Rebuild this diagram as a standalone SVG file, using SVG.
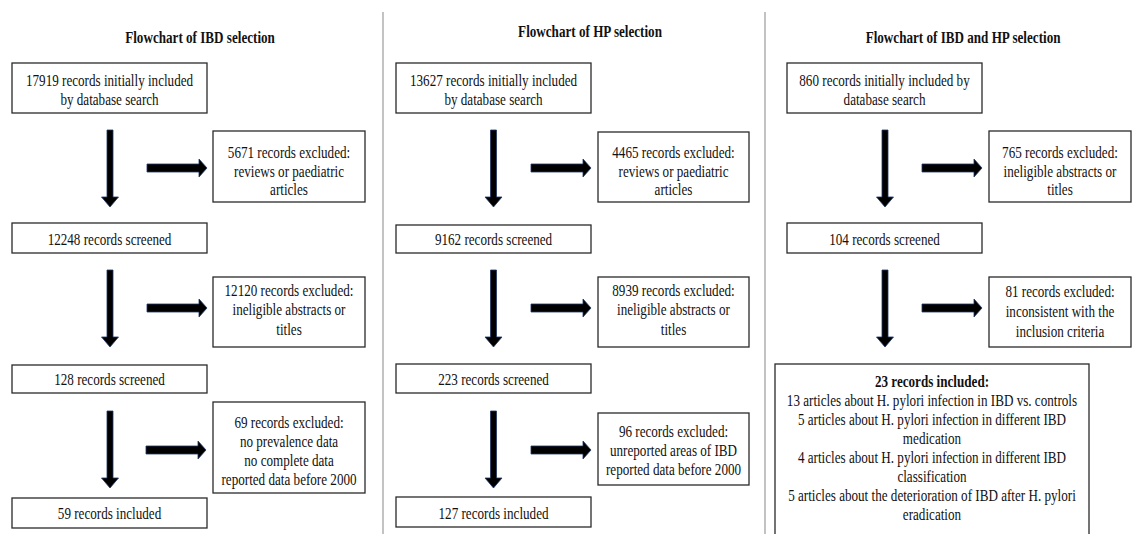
<svg xmlns="http://www.w3.org/2000/svg" width="1132" height="534" viewBox="0 0 1132 534">
<style>
.bx{fill:#fff;stroke:#2a2a2a;stroke-width:1.3}
.t{font-family:"Liberation Serif","Times New Roman",serif;font-size:17.5px;fill:#111;text-anchor:middle;transform-box:fill-box;transform-origin:center;transform:scaleX(0.75)}
.h{font-weight:bold}
.sep{stroke:#9a9a9a;stroke-width:1.2}
.ar{fill:#000;stroke:#1f3864;stroke-width:0.8}
</style>
<defs>
<path id="va" d="M-3,0 H3 V67 H8.5 L0,77 L-8.5,67 H-3 Z"/>
<path id="ha" d="M0,-4 H52 V-9 L60,0 L52,9 V4 H0 Z"/>
</defs>
<rect width="1132" height="534" fill="#fff"/>
<g id="separators">
<line class="sep" x1="383" y1="12" x2="383" y2="534"/>
<line class="sep" x1="765" y1="12" x2="765" y2="534"/>
</g>
<g id="titles">
<text class="t h" x="200" y="43">Flowchart of IBD selection</text>
<text class="t h" x="590" y="37">Flowchart of HP selection</text>
<text class="t h" x="963" y="43">Flowchart of IBD and HP selection</text>
</g>
<g id="connectors" class="ar">
<use href="#va" transform="translate(110 130)"/>
<use href="#va" transform="translate(110 270)"/>
<use href="#va" transform="translate(110 411)"/>
<use href="#ha" transform="translate(147 168)"/>
<use href="#ha" transform="translate(147 308)"/>
<use href="#ha" transform="translate(146 450)"/>
<use href="#va" transform="translate(493.5 130)"/>
<use href="#va" transform="translate(493.5 270)"/>
<use href="#va" transform="translate(493.5 411)"/>
<use href="#ha" transform="translate(531 168)"/>
<use href="#ha" transform="translate(531 308)"/>
<use href="#ha" transform="translate(531 450)"/>
<use href="#va" transform="translate(885 130)"/>
<use href="#va" transform="translate(885 270)"/>
<use href="#ha" transform="translate(922 168)"/>
<use href="#ha" transform="translate(922 308)"/>
</g>
<g id="ibd-initial"><rect class="bx" x="12" y="63" width="195" height="50"/><text class="t" x="109.5" y="86"><tspan x="109.5">17919 records initially included</tspan><tspan x="109.5" y="105">by database search</tspan></text></g>
<g id="ibd-excl1"><rect class="bx" x="213" y="131" width="152" height="71"/><text class="t" x="289" y="158"><tspan x="289">5671 records excluded:</tspan><tspan x="289" y="177">reviews or paediatric</tspan><tspan x="289" y="195">articles</tspan></text></g>
<g id="ibd-screen1"><rect class="bx" x="12" y="223" width="195" height="30"/><text class="t" x="109.5" y="245">12248 records screened</text></g>
<g id="ibd-excl2"><rect class="bx" x="213" y="277" width="152" height="70"/><text class="t" x="289" y="296"><tspan x="289">12120 records excluded:</tspan><tspan x="289" y="315">ineligible abstracts or</tspan><tspan x="289" y="335">titles</tspan></text></g>
<g id="ibd-screen2"><rect class="bx" x="12" y="365" width="195" height="28"/><text class="t" x="109.5" y="385">128 records screened</text></g>
<g id="ibd-excl3"><rect class="bx" x="213" y="402" width="152" height="91"/><text class="t" x="289" y="428"><tspan x="289">69 records excluded:</tspan><tspan x="289" y="447">no prevalence data</tspan><tspan x="289" y="466">no complete data</tspan><tspan x="289" y="485">reported data before 2000</tspan></text></g>
<g id="ibd-included"><rect class="bx" x="12" y="498" width="195" height="30"/><text class="t" x="109.5" y="519">59 records included</text></g>

<g id="hp-initial"><rect class="bx" x="396" y="63" width="195" height="50"/><text class="t" x="493.5" y="86"><tspan x="493.5">13627 records initially included</tspan><tspan x="493.5" y="105">by database search</tspan></text></g>
<g id="hp-excl1"><rect class="bx" x="598" y="132" width="151" height="70"/><text class="t" x="673.5" y="158"><tspan x="673.5">4465 records excluded:</tspan><tspan x="673.5" y="177">reviews or paediatric</tspan><tspan x="673.5" y="195">articles</tspan></text></g>
<g id="hp-screen1"><rect class="bx" x="396" y="225" width="195" height="28"/><text class="t" x="493.5" y="245">9162 records screened</text></g>
<g id="hp-excl2"><rect class="bx" x="598" y="277" width="151" height="70"/><text class="t" x="673.5" y="296"><tspan x="673.5">8939 records excluded:</tspan><tspan x="673.5" y="315">ineligible abstracts or</tspan><tspan x="673.5" y="335">titles</tspan></text></g>
<g id="hp-screen2"><rect class="bx" x="396" y="364" width="195" height="29"/><text class="t" x="493.5" y="385">223 records screened</text></g>
<g id="hp-excl3"><rect class="bx" x="598" y="413" width="151" height="72"/><text class="t" x="673.5" y="437"><tspan x="673.5">96 records excluded:</tspan><tspan x="673.5" y="456">unreported areas of IBD</tspan><tspan x="673.5" y="475">reported data before 2000</tspan></text></g>
<g id="hp-included"><rect class="bx" x="396" y="497" width="195" height="30"/><text class="t" x="493.5" y="519">127 records included</text></g>

<g id="both-initial"><rect class="bx" x="787" y="63" width="195" height="50"/><text class="t" x="884.5" y="86"><tspan x="884.5">860 records initially included by</tspan><tspan x="884.5" y="105">database search</tspan></text></g>
<g id="both-excl1"><rect class="bx" x="989" y="131" width="142" height="71"/><text class="t" x="1060" y="158"><tspan x="1060">765 records excluded:</tspan><tspan x="1060" y="177">ineligible abstracts or</tspan><tspan x="1060" y="195">titles</tspan></text></g>
<g id="both-screen1"><rect class="bx" x="787" y="223" width="195" height="30"/><text class="t" x="884.5" y="245">104 records screened</text></g>
<g id="both-excl2"><rect class="bx" x="989" y="277" width="142" height="70"/><text class="t" x="1060" y="297"><tspan x="1060">81 records excluded:</tspan><tspan x="1060" y="317">inconsistent with the</tspan><tspan x="1060" y="337">inclusion criteria</tspan></text></g>
<g id="both-included"><rect class="bx" x="775" y="364" width="314" height="180"/><text class="t" x="932" y="387"><tspan x="932" class="h">23 records included:</tspan><tspan x="932" y="406">13 articles about H. pylori infection in IBD vs. controls</tspan><tspan x="932" y="425">5 articles about H. pylori infection in different IBD</tspan><tspan x="932" y="444">medication</tspan><tspan x="932" y="463">4 articles about H. pylori infection in different IBD</tspan><tspan x="932" y="482">classification</tspan><tspan x="932" y="501">5 articles about the deterioration of IBD after H. pylori</tspan><tspan x="932" y="520">eradication</tspan></text></g>
</svg>
